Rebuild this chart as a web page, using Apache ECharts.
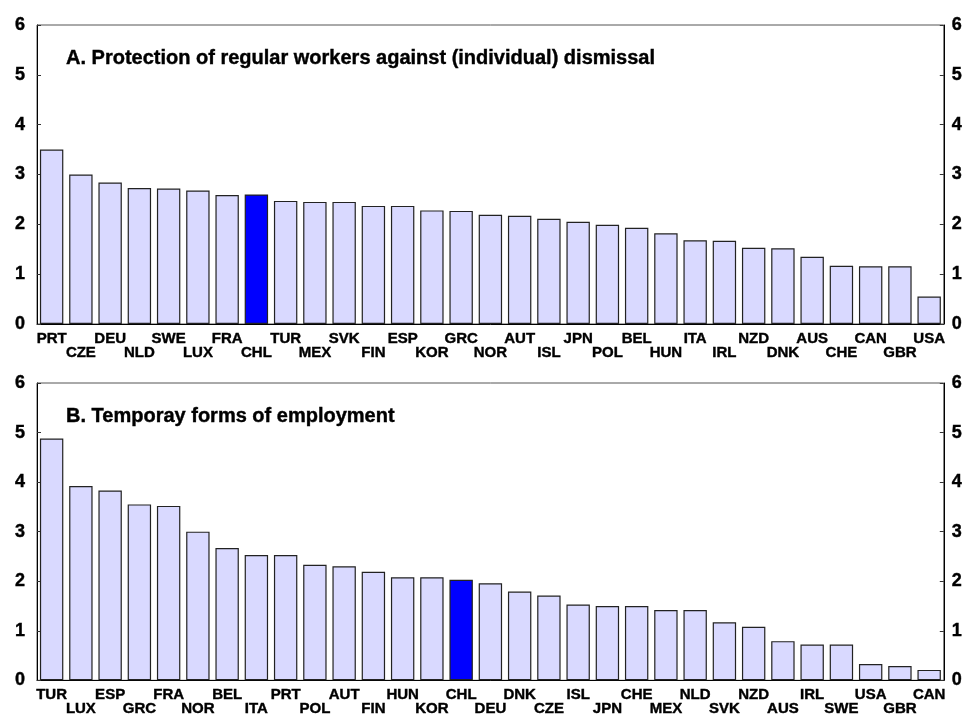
<!DOCTYPE html>
<html>
<head>
<meta charset="utf-8">
<title>EPL indicators</title>
<script src="https://cdn.jsdelivr.net/npm/echarts@6/dist/echarts.min.js"></script>
<style>
  html, body { margin: 0; padding: 0; background: #fff; }
  #chart { width: 965px; height: 717px; }
</style>
</head>
<body>
<div id="chart"></div>
<script>
// Panel A: protection of regular workers against (individual) dismissal
const catsA = ['PRT', 'CZE', 'DEU', 'NLD', 'SWE', 'LUX', 'FRA', 'CHL', 'TUR', 'MEX',
  'SVK', 'FIN', 'ESP', 'KOR', 'GRC', 'NOR', 'AUT', 'ISL', 'JPN', 'POL',
  'BEL', 'HUN', 'ITA', 'IRL', 'NZD', 'DNK', 'AUS', 'CHE', 'CAN', 'GBR', 'USA']
const valsA = [3.50, 3.00, 2.84, 2.73, 2.72, 2.68, 2.59, 2.60, 2.47, 2.45,
  2.45, 2.37, 2.37, 2.28, 2.27, 2.19, 2.17, 2.11, 2.05, 1.99,
  1.93, 1.82, 1.68, 1.67, 1.53, 1.52, 1.35, 1.17, 1.16, 1.16, 0.55]

// Panel B: temporary forms of employment
const catsB = ['TUR', 'LUX', 'ESP', 'GRC', 'FRA', 'NOR', 'BEL', 'ITA', 'PRT', 'POL',
  'AUT', 'FIN', 'HUN', 'KOR', 'CHL', 'DEU', 'DNK', 'CZE', 'ISL', 'JPN',
  'CHE', 'MEX', 'NLD', 'SVK', 'NZD', 'AUS', 'IRL', 'SWE', 'USA', 'GBR', 'CAN']
const valsB = [4.88, 3.92, 3.83, 3.55, 3.52, 3.00, 2.67, 2.53, 2.53, 2.33,
  2.30, 2.19, 2.08, 2.08, 2.03, 1.96, 1.79, 1.71, 1.53, 1.50,
  1.50, 1.42, 1.42, 1.17, 1.08, 0.79, 0.72, 0.72, 0.33, 0.29, 0.21]

const titleA = 'A. Protection of regular workers against (individual) dismissal'
const titleB = 'B. Temporay forms of employment'
const highlight = 'CHL'

const FONT = '"Liberation Sans", Arial, sans-serif'
const barColor = '#d9d9ff'
const hiColor = '#0000ff'

// 加粗一点，接近原图的字体
const heavy = { color: '#000', fontFamily: FONT, fontWeight: 'bold', textBorderColor: '#000', textBorderWidth: 0.4 }

function barData (cats, vals) {
  return vals.map((v, i) => ({
    value: v,
    itemStyle: { color: cats[i] === highlight ? hiColor : barColor }
  }))
}

function xAxis (gridIndex, cats) {
  return {
    type: 'category',
    gridIndex,
    data: cats,
    axisLine: { lineStyle: { color: '#000', width: 1 } },
    axisTick: { inside: true, alignWithLabel: true, length: 4, lineStyle: { color: '#333' } },
    axisLabel: Object.assign({
      interval: 0,
      margin: 8,
      fontSize: 15,
      lineHeight: 14,
      // 交替两行显示国家代码
      formatter (val, idx) { return idx % 2 ? '\n' + val : val }
    }, heavy)
  }
}

function yAxis (gridIndex, position) {
  return {
    type: 'value',
    gridIndex,
    position,
    min: 0,
    max: 6,
    interval: 1,
    splitLine: { show: false },
    axisLine: { show: true, lineStyle: { color: '#000', width: 1 } },
    axisTick: { show: true, inside: true, length: 4, lineStyle: { color: '#333' } },
    axisLabel: Object.assign({
      margin: position === 'left' ? 12 : 8,
      fontSize: 18
    }, heavy)
  }
}

function barSeries (idx, cats, vals) {
  return {
    type: 'bar',
    xAxisIndex: idx,
    yAxisIndex: idx * 2,
    data: barData(cats, vals),
    barCategoryGap: '20%',
    itemStyle: { borderColor: '#222', borderWidth: 1.2 },
    animation: false
  }
}

const chart = echarts.init(document.getElementById('chart'))

const option = {
  backgroundColor: '#fff',
  animation: false,
  title: [
    { text: titleA, left: 61, top: 43, textStyle: Object.assign({ fontSize: 20 }, heavy) },
    { text: titleB, left: 61, top: 401, textStyle: Object.assign({ fontSize: 20 }, heavy) }
  ],
  grid: [
    { left: 37, right: 19, top: 25, height: 299, show: true, borderColor: '#555', borderWidth: 1 },
    { left: 37, right: 19, top: 383, height: 299, show: true, borderColor: '#555', borderWidth: 1 }
  ],
  xAxis: [xAxis(0, catsA), xAxis(1, catsB)],
  yAxis: [yAxis(0, 'left'), yAxis(0, 'right'), yAxis(1, 'left'), yAxis(1, 'right')],
  series: [barSeries(0, catsA, valsA), barSeries(1, catsB, valsB)]
}

chart.setOption(option)
</script>
</body>
</html>
